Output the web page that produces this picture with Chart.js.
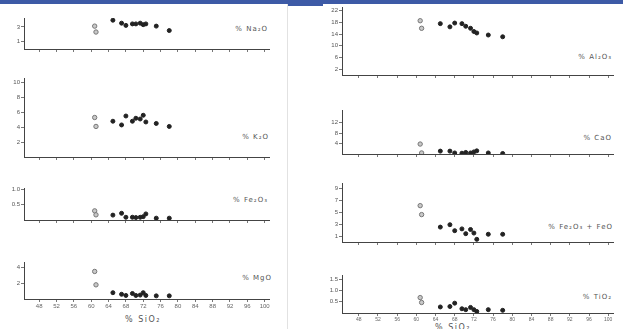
<!DOCTYPE html>
<html lang="en">
<head>
<meta charset="UTF-8">
<title>Harker diagrams</title>
<style>
  html, body { margin: 0; padding: 0; background: #fff; }
  body { width: 623px; height: 329px; position: relative; overflow: hidden; font-family: "DejaVu Sans", sans-serif; }
  .bar { position: absolute; left: 0; top: 0; width: 623px; height: 4px; background: #3d5aa6; }
  .bar2 { position: absolute; left: 287px; top: 0; width: 36px; height: 6px; background: #3d5aa6; }
  .divider { position: absolute; left: 287px; top: 4px; width: 1px; height: 325px; background: #e2e2e2; }
  canvas { position: absolute; }
  .lbl { position: absolute; font-size: 7px; color: #555; letter-spacing: 1px; white-space: nowrap; transform: translateY(-50%); }
  .title { position: absolute; font-size: 8px; color: #555; letter-spacing: 1.5px; white-space: nowrap; transform: translate(-50%, -50%); }
</style>
</head>
<body>
<div class="bar"></div>
<div class="bar2"></div>
<div class="divider"></div>

<span class="lbl" style="right:355px; top:29px">% Na₂O</span>
<span class="lbl" style="right:354px; top:137px">% K₂O</span>
<span class="lbl" style="right:355px; top:200px">% Fe₂O₃</span>
<span class="lbl" style="right:351px; top:278px">% MgO</span>
<span class="lbl" style="right:11px; top:57px">% Al₂O₃</span>
<span class="lbl" style="right:11px; top:138px">% CaO</span>
<span class="lbl" style="right:10px; top:227px">% Fe₂O₃ + FeO</span>
<span class="lbl" style="right:11px; top:297px">% TiO₂</span>
<span class="title" style="left:143px; top:319px">% SiO₂</span>
<span class="title" style="left:453px; top:327px">% SiO₂</span>

<script src="https://cdn.jsdelivr.net/npm/chart.js"></script>
<script>
    // Proben (gleiche Reihenfolge in allen Diagrammen)
    const sio2       = [60.8, 61.1, 65.0, 67.0, 68.0, 69.5, 70.3, 71.3, 72.0, 72.6, 75.0, 78.0];
    const sampleType = ['open', 'open', 'filled', 'filled', 'filled', 'filled', 'filled', 'filled', 'filled', 'filled', 'filled', 'filled'];

    const na2o  = [3.1, 2.3, 3.9, 3.5, 3.2, 3.4, 3.4, 3.5, 3.3, 3.4, 3.1, 2.5];
    const k2o   = [5.3, 4.1, 4.8, 4.3, 5.5, 4.8, 5.2, 5.1, 5.6, 4.7, 4.5, 4.1];
    const fe2o3 = [0.30, 0.17, 0.16, 0.22, 0.09, 0.09, 0.08, 0.09, 0.11, 0.20, 0.06, 0.06];
    const mgo   = [3.5, 1.8, 0.8, 0.6, 0.45, 0.7, 0.45, 0.5, 0.8, 0.45, 0.4, 0.4];
    const al2o3 = [18.6, 16.0, 17.6, 16.5, 17.8, 17.6, 16.7, 16.0, 14.9, 14.4, 13.7, 13.1];
    const cao   = [3.8, 0.4, 1.1, 1.1, 0.4, 0.3, 0.6, 0.4, 0.8, 1.2, 0.4, 0.2];
    const fetot = [6.1, 4.6, 2.5, 2.9, 1.9, 2.2, 1.4, 2.1, 1.5, 0.45, 1.3, 1.3];
    const tio2  = [0.69, 0.47, 0.27, 0.29, 0.44, 0.19, 0.15, 0.25, 0.15, 0.07, 0.15, 0.12];

    // Achsenbeschriftungen
    const xTicks     = [48, 52, 56, 60, 64, 68, 72, 76, 80, 84, 88, 92, 96, 100];
    const na2oTicks  = [1, 3];
    const k2oTicks   = [2, 4, 6, 8, 10];
    const fe2o3Ticks = [0.5, 1];
    const mgoTicks   = [2, 4];
    const al2o3Ticks = [2, 6, 10, 14, 18, 22];
    const caoTicks   = [4, 8, 12];
    const fetotTicks = [1, 3, 5, 7, 9];
    const tio2Ticks  = [0.5, 1, 1.5];

    // box = [links, rechts, oben, unten] der Zeichenfläche in Pixeln
    const panels = [
        { values: na2o,  ticks: na2oTicks,  yMax: 4.2,  box: [24, 269, 18, 50] },
        { values: k2o,   ticks: k2oTicks,   yMax: 10.6, box: [24, 269, 78, 158] },
        { values: fe2o3, ticks: fe2o3Ticks, yMax: 1.05, box: [24, 269, 188, 221] },
        { values: mgo,   ticks: mgoTicks,   yMax: 4.7,  box: [24, 269, 262, 299], xLabels: 6 },
        { values: al2o3, ticks: al2o3Ticks, yMax: 23.3, box: [342, 613, 7, 76] },
        { values: cao,   ticks: caoTicks,   yMax: 16.8, box: [342, 613, 110, 155] },
        { values: fetot, ticks: fetotTicks, yMax: 9.9,  box: [342, 613, 183, 243] },
        { values: tio2,  ticks: tio2Ticks,  yMax: 1.7,  box: [342, 613, 275, 313], xLabels: 5 }
    ];

    const PAD_TOP = 6, PAD_RIGHT = 8, Y_W = 18;

    panels.forEach(p => {
        const [L, R, T, B] = p.box;
        const xH = p.xLabels ? 14 : 4;
        const c = document.createElement('canvas');
        c.width = R - L + Y_W + PAD_RIGHT;
        c.height = B - T + PAD_TOP + xH;
        c.style.left = (L - Y_W) + 'px';
        c.style.top = (T - PAD_TOP) + 'px';
        document.body.appendChild(c);

        const pts = sio2.map((x, i) => ({ x: x, y: p.values[i], type: sampleType[i] }));

        new Chart(c, {
            type: 'scatter',
            data: {
                datasets: [{
                    data: pts.filter(d => d.type === 'open'),
                    pointStyle: 'circle',
                    pointRadius: 2.2,
                    backgroundColor: '#c8c8c8',
                    borderColor: '#777',
                    borderWidth: 1
                }, {
                    data: pts.filter(d => d.type === 'filled'),
                    pointStyle: 'circle',
                    pointRadius: 2,
                    backgroundColor: '#222',
                    borderColor: '#222',
                    borderWidth: 1
                }]
            },
            options: {
                responsive: false,
                animation: false,
                layout: { padding: { top: PAD_TOP, right: PAD_RIGHT, left: 0, bottom: 0 } },
                plugins: { legend: { display: false }, tooltip: { enabled: false } },
                scales: {
                    x: {
                        type: 'linear', min: 44.5, max: 101,
                        afterBuildTicks: s => { s.ticks = xTicks.map(v => ({ value: v })); },
                        afterFit: s => { s.height = xH; },
                        grid: { drawOnChartArea: false, tickLength: 3, color: '#777' },
                        border: { color: '#444', width: 1 },
                        ticks: { display: !!p.xLabels, font: { size: p.xLabels || 5 }, color: '#666', padding: 1, maxRotation: 0, autoSkip: false }
                    },
                    y: {
                        min: 0, max: p.yMax,
                        afterBuildTicks: s => { s.ticks = p.ticks.map(v => ({ value: v })); },
                        afterFit: s => { s.width = Y_W; },
                        grid: { drawOnChartArea: false, tickLength: 3, color: '#777' },
                        border: { color: '#444', width: 1 },
                        ticks: { font: { size: 6 }, color: '#555', padding: 1 }
                    }
                }
            }
        });
    });
</script>
</body>
</html>
